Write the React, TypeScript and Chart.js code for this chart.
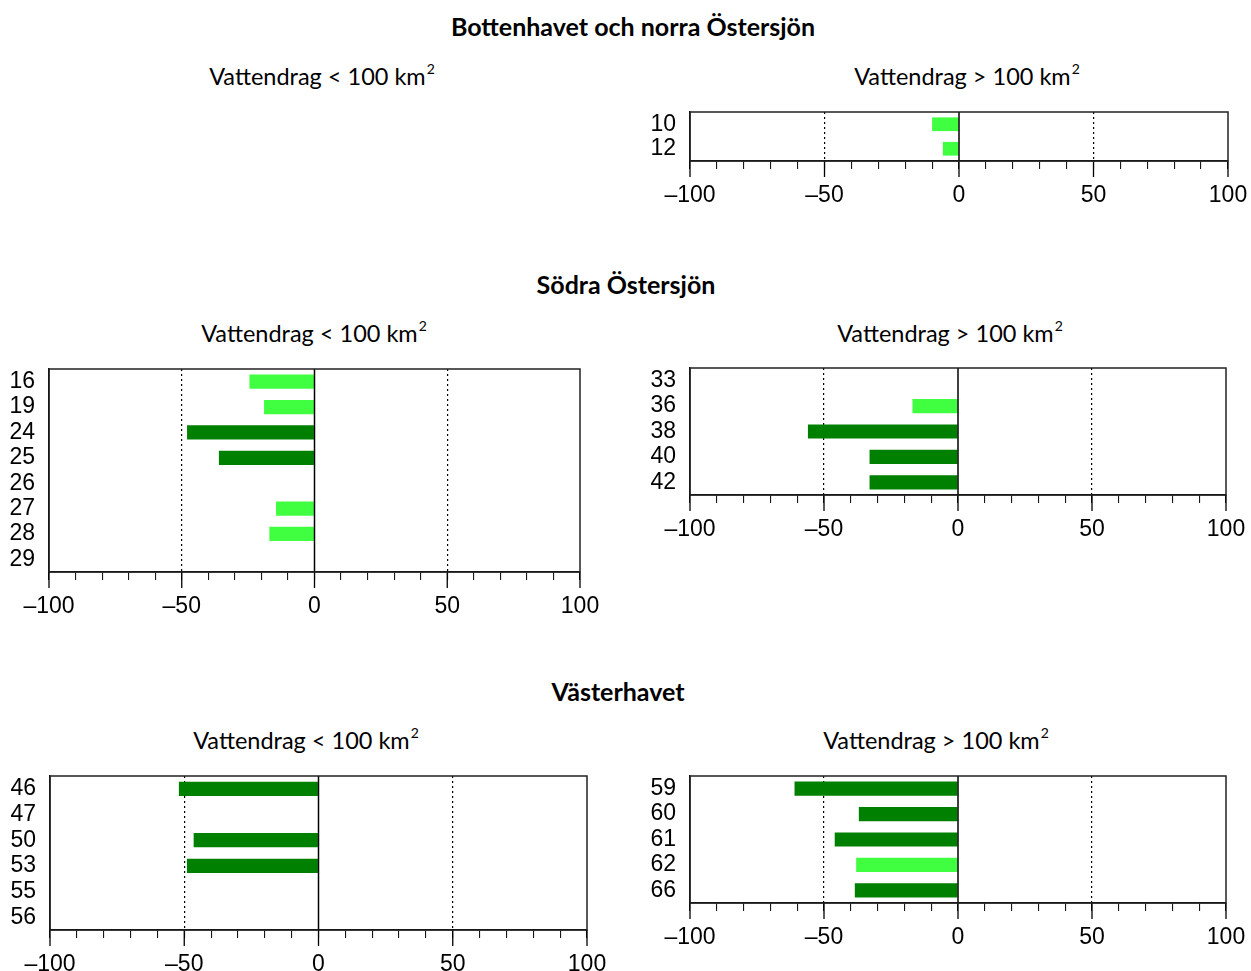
import React, { useEffect, useRef } from 'react';
import { Chart, registerables } from 'chart.js';
Chart.register(...registerables);

// ---- data ----
const p1Cats = ['10', '12'];
const p1Vals: (number | null)[] = [-10, -6];
const p1Sig = [false, false];

const p2Cats = ['16', '19', '24', '25', '26', '27', '28', '29'];
const p2Vals: (number | null)[] = [-24.5, -19, -48, -36, null, -14.5, -17, null];
const p2Sig = [false, false, true, true, false, false, false, false];

const p3Cats = ['33', '36', '38', '40', '42'];
const p3Vals: (number | null)[] = [null, -17, -56, -33, -33];
const p3Sig = [false, false, true, true, true];

const p4Cats = ['46', '47', '50', '53', '55', '56'];
const p4Vals: (number | null)[] = [-52, null, -46.5, -49, null, null];
const p4Sig = [true, false, true, true, false, false];

const p5Cats = ['59', '60', '61', '62', '66'];
const p5Vals: (number | null)[] = [-61, -37, -46, -38, -38.5];
const p5Sig = [true, true, true, false, true];

const xMajorTicks = [-100, -50, 0, 50, 100];
const xMin = -100;
const xMax = 100;
const xStep = 10;

const LIGHT = '#40FF40';
const DARK = '#008000';
const Y_W = 48;
const PAD_T = 10;
const PAD_R = 30;
const X_H = 56;

const framePlugin = {
  id: 'framePlugin',
  afterDraw(chart: any) {
    const { ctx, chartArea } = chart;
    const x = chart.scales.x;
    ctx.save();
    ctx.strokeStyle = '#000';
    ctx.lineWidth = 1.3;
    xMajorTicks.forEach((v) => {
      const px = x.getPixelForValue(v);
      ctx.beginPath();
      ctx.moveTo(px, chartArea.bottom);
      ctx.lineTo(px, chartArea.bottom + 16);
      ctx.stroke();
    });
    const z = x.getPixelForValue(0);
    ctx.lineWidth = 1.5;
    ctx.beginPath();
    ctx.moveTo(z, chartArea.top);
    ctx.lineTo(z, chartArea.bottom);
    ctx.stroke();
    ctx.strokeStyle = '#222';
    ctx.lineWidth = 1.5;
    ctx.strokeRect(chartArea.left, chartArea.top, chartArea.right - chartArea.left, chartArea.bottom - chartArea.top);
    ctx.restore();
  },
};

type PanelProps = {
  cats: string[];
  vals: (number | null)[];
  sig: boolean[];
  left: number;
  top: number;
  w: number;
  h: number;
};

function Panel({ cats, vals, sig, left, top, w, h }: PanelProps) {
  const ref = useRef<HTMLCanvasElement>(null);
  const cw = Y_W + w + PAD_R;
  const ch = PAD_T + h + X_H;
  useEffect(() => {
    if (!ref.current) return;
    const chart = new Chart(ref.current, {
      type: 'bar',
      data: {
        labels: cats,
        datasets: [
          {
            data: vals as any,
            backgroundColor: (c: any) => (sig[c.dataIndex] ? DARK : LIGHT),
            barPercentage: 0.56,
            categoryPercentage: 1,
          },
        ],
      },
      options: {
        indexAxis: 'y',
        animation: false,
        responsive: false,
        devicePixelRatio: 1,
        layout: { padding: { top: PAD_T, right: PAD_R, left: 0, bottom: 0 } },
        plugins: { legend: { display: false }, tooltip: { enabled: false }, title: { display: false } },
        scales: {
          x: {
            type: 'linear',
            min: xMin,
            max: xMax,
            afterFit: (s: any) => {
              s.height = X_H;
              s.paddingLeft = 0;
              s.paddingRight = 0;
            },
            ticks: {
              stepSize: xStep,
              autoSkip: false,
              maxRotation: 0,
              padding: 13,
              color: '#000',
              font: { family: 'Liberation Sans', size: 23 },
              callback: (v: any) => {
                const n = Number(v);
                if (!xMajorTicks.includes(n)) return '';
                return n < 0 ? '\u2013' + Math.abs(n) : String(n);
              },
            },
            grid: {
              drawOnChartArea: true,
              drawTicks: true,
              tickLength: 8,
              tickColor: '#000',
              tickWidth: 1,
              lineWidth: 1.2,
              color: (c: any) => (c.tick && Math.abs(c.tick.value) === 50 ? '#000' : 'rgba(0,0,0,0)'),
            },
            border: {
              display: true,
              color: '#000',
              width: 1.5,
              dash: (c: any) => (c.tick && Math.abs(c.tick.value) === 50 ? [2, 3] : []),
            },
          },
          y: {
            type: 'category',
            offset: true,
            afterFit: (s: any) => {
              s.width = Y_W;
              s.paddingTop = 0;
              s.paddingBottom = 0;
            },
            ticks: {
              autoSkip: false,
              padding: 14,
              color: '#000',
              font: { family: 'Liberation Sans', size: 23 },
            },
            grid: { display: false, drawTicks: false, drawOnChartArea: false },
            border: { display: true, color: '#000', width: 1.5 },
          },
        },
      },
      plugins: [framePlugin],
    } as any);
    return () => chart.destroy();
  }, []);
  return (
    <div style={{ position: 'absolute', left: left - Y_W, top: top - PAD_T, width: cw, height: ch }}>
      <canvas ref={ref} width={cw} height={ch} style={{ width: cw, height: ch, display: 'block' }} />
    </div>
  );
}

const headFont = 'Lato, "Open Sans", sans-serif';

function Label({ x, y, bold, size, children }: { x: number; y: number; bold?: boolean; size: number; children: any }) {
  return (
    <div
      style={{
        position: 'absolute',
        left: x,
        top: y,
        transform: 'translate(-50%, -50%)',
        whiteSpace: 'nowrap',
        fontFamily: headFont,
        fontSize: size,
        fontWeight: bold ? 700 : 400,
        color: '#000',
        lineHeight: 1,
      }}
    >
      {children}
    </div>
  );
}

function Sub({ x, y, op }: { x: number; y: number; op: string }) {
  return (
    <Label x={x} y={y} size={23.5}>
      Vattendrag {op} 100 km
      <sup style={{ fontSize: 14, verticalAlign: 0, position: 'relative', top: -11, marginLeft: 1 }}>2</sup>
    </Label>
  );
}

export default function App() {
  return (
    <div style={{ position: 'absolute', left: 0, top: 0, width: 1251, height: 971, background: '#fff', overflow: 'hidden' }}>
      <Label x={633} y={26} bold size={25}>
        Bottenhavet och norra Östersjön
      </Label>
      <Sub x={322} y={77} op="<" />
      <Sub x={967} y={77} op=">" />
      <Panel cats={p1Cats} vals={p1Vals} sig={p1Sig} left={690} top={112} w={538} h={49} />

      <Label x={626} y={284} bold size={25}>
        Södra Östersjön
      </Label>
      <Sub x={314} y={334} op="<" />
      <Sub x={950} y={334} op=">" />
      <Panel cats={p2Cats} vals={p2Vals} sig={p2Sig} left={49} top={369} w={531} h={203} />
      <Panel cats={p3Cats} vals={p3Vals} sig={p3Sig} left={690} top={368} w={536} h={127} />

      <Label x={618} y={691} bold size={25}>
        Västerhavet
      </Label>
      <Sub x={306} y={741} op="<" />
      <Sub x={936} y={741} op=">" />
      <Panel cats={p4Cats} vals={p4Vals} sig={p4Sig} left={50} top={776} w={537} h={154} />
      <Panel cats={p5Cats} vals={p5Vals} sig={p5Sig} left={690} top={776} w={536} h={127} />
    </div>
  );
}
